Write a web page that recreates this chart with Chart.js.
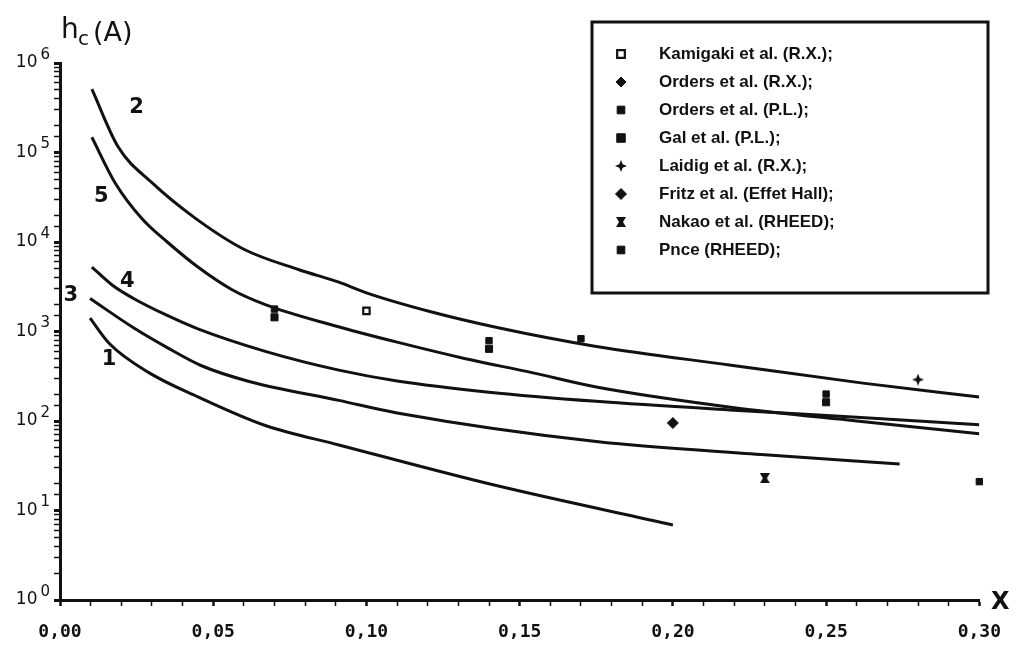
<!DOCTYPE html>
<html>
<head>
<meta charset="utf-8">
<script src="https://cdn.jsdelivr.net/npm/chart.js@4.4.1/dist/chart.umd.min.js"></script>
<style>
  html, body { margin: 0; padding: 0; background: #fff; }
  #wrap { position: relative; width: 1017px; height: 652px; }
</style>
</head>
<body>
<div id="wrap"><canvas id="chart" width="1017" height="652"></canvas></div>
<script>
// theoretical curves (x = composition, y = critical thickness in A)
const curve2X = [0.0104, 0.019, 0.030, 0.044, 0.060, 0.078, 0.091, 0.100, 0.121, 0.143, 0.175, 0.219, 0.262, 0.300];
const curve2Y = [510000, 115000, 46000, 18600, 8300, 4900, 3560, 2700, 1660, 1100, 680, 420, 265, 185];

const curve5X = [0.0104, 0.018, 0.027, 0.035, 0.045, 0.056, 0.067, 0.089, 0.110, 0.132, 0.154, 0.175, 0.220, 0.260, 0.300];
const curve5Y = [148000, 45700, 17800, 10000, 5250, 2950, 2000, 1175, 760, 500, 347, 240, 141, 100, 72];

const curve4X = [0.0104, 0.017, 0.024, 0.035, 0.045, 0.067, 0.091, 0.110, 0.140, 0.175, 0.220, 0.260, 0.300];
const curve4Y = [5250, 3310, 2340, 1510, 1070, 600, 370, 280, 210, 166, 132, 110, 91];

const curve3X = [0.0098, 0.024, 0.035, 0.046, 0.062, 0.091, 0.110, 0.175, 0.230, 0.274];
const curve3Y = [2340, 1100, 660, 417, 275, 170, 123, 59, 42, 33];

const curve1X = [0.0098, 0.016, 0.029, 0.045, 0.067, 0.091, 0.141, 0.200];
const curve1Y = [1410, 740, 347, 186, 89, 54, 19.5, 6.9];

// curve numbers written next to the curves
const curveLabels = ["2", "5", "4", "3", "1"];
const curveLabelX = [0.025, 0.0135, 0.022, 0.0035, 0.016];
const curveLabelY = [320000, 32000, 3600, 2500, 480];

// experimental points
const kamigakiX = [0.10];
const kamigakiY = [1700];
const ordersRxX = [];
const ordersRxY = [];
const ordersPlX = [0.07, 0.14, 0.25];
const ordersPlY = [1780, 790, 200];
const galX = [0.07, 0.14, 0.25];
const galY = [1440, 640, 162];
const laidigX = [0.28];
const laidigY = [290];
const fritzX = [0.20];
const fritzY = [95];
const nakaoX = [0.23];
const nakaoY = [23];
const pnceX = [0.17, 0.30];
const pnceY = [830, 21];

const legendLabels = [
  "Kamigaki et al. (R.X.);",
  "Orders et al. (R.X.);",
  "Orders et al. (P.L.);",
  "Gal et al. (P.L.);",
  "Laidig et al. (R.X.);",
  "Fritz et al. (Effet Hall);",
  "Nakao et al. (RHEED);",
  "Pnce (RHEED);",
];

const yPowers = [0, 1, 2, 3, 4, 5, 6];

const INK = "#111";

function zip(xs, ys) {
  return xs.map((x, i) => ({ x: x, y: ys[i] }));
}

// little canvases for the odd marker shapes
function starMarker(size) {
  const c = document.createElement("canvas");
  c.width = c.height = size;
  const g = c.getContext("2d");
  const m = size / 2, k = size * 0.14;
  g.fillStyle = INK;
  g.beginPath();
  g.moveTo(m, 0);
  g.lineTo(m + k, m - k);
  g.lineTo(size, m);
  g.lineTo(m + k, m + k);
  g.lineTo(m, size);
  g.lineTo(m - k, m + k);
  g.lineTo(0, m);
  g.lineTo(m - k, m - k);
  g.closePath();
  g.fill();
  return c;
}

function hourglassMarker(size) {
  const c = document.createElement("canvas");
  c.width = c.height = size;
  const g = c.getContext("2d");
  const m = size / 2;
  g.fillStyle = INK;
  g.beginPath();
  g.moveTo(0, 0);
  g.lineTo(size, 0);
  g.lineTo(m + 2, m);
  g.lineTo(size, size);
  g.lineTo(0, size);
  g.lineTo(m - 2, m);
  g.closePath();
  g.fill();
  return c;
}

const starImg = starMarker(12);
const hourglassImg = hourglassMarker(10);

function pointSet(label, xs, ys, style, radius, fill) {
  return {
    label: label,
    data: zip(xs, ys),
    showLine: false,
    clip: false,
    pointStyle: style,
    pointRadius: radius,
    pointHoverRadius: radius,
    pointBackgroundColor: fill,
    pointBorderColor: INK,
    pointBorderWidth: fill === "#fff" ? 2.2 : 1,
  };
}

function curveSet(xs, ys) {
  return {
    label: "",
    data: zip(xs, ys),
    showLine: true,
    borderColor: INK,
    borderWidth: 3,
    pointRadius: 0,
    cubicInterpolationMode: "monotone",
  };
}

const markerSets = [
  pointSet(legendLabels[0], kamigakiX, kamigakiY, "rect", 4.5, "#fff"),
  pointSet(legendLabels[1], ordersRxX, ordersRxY, "rectRot", 5, INK),
  pointSet(legendLabels[2], ordersPlX, ordersPlY, "rect", 4.5, INK),
  pointSet(legendLabels[3], galX, galY, "rect", 5, INK),
  pointSet(legendLabels[4], laidigX, laidigY, starImg, 6, INK),
  pointSet(legendLabels[5], fritzX, fritzY, "rectRot", 5.5, INK),
  pointSet(legendLabels[6], nakaoX, nakaoY, hourglassImg, 5, INK),
  pointSet(legendLabels[7], pnceX, pnceY, "rect", 4.5, INK),
];

const curveSets = [
  curveSet(curve2X, curve2Y),
  curveSet(curve5X, curve5Y),
  curveSet(curve4X, curve4Y),
  curveSet(curve3X, curve3Y),
  curveSet(curve1X, curve1Y),
];

function isPow10(v) {
  const l = Math.log10(v);
  return Math.abs(l - Math.round(l)) < 1e-9;
}

// draws y tick labels (10 with exponent), axis titles, curve numbers and the boxed legend
const decorPlugin = {
  id: "decor",
  afterDraw(chart) {
    const ctx = chart.ctx;
    const xs = chart.scales.x;
    const ys = chart.scales.y;
    ctx.save();
    ctx.fillStyle = INK;

    // y tick labels
    ctx.textBaseline = "middle";
    ctx.textAlign = "right";
    yPowers.forEach((p) => {
      const py = ys.getPixelForValue(Math.pow(10, p));
      ctx.font = "15px 'DejaVu Sans'";
      const exp = String(p);
      ctx.fillText(exp, xs.left - 10, py - 8);
      const ew = ctx.measureText(exp).width;
      ctx.font = "17px 'DejaVu Sans'";
      ctx.fillText("10", xs.left - 13 - ew, py);
    });

    // y axis title
    ctx.textAlign = "left";
    ctx.textBaseline = "alphabetic";
    ctx.font = "28px 'DejaVu Sans'";
    ctx.fillText("h", xs.left + 1, 38);
    ctx.font = "20px 'DejaVu Sans'";
    ctx.fillText("c", xs.left + 18, 45);
    ctx.font = "27px 'DejaVu Sans'";
    ctx.fillText("(A)", xs.left + 33, 41);

    // x axis title
    ctx.font = "bold 24px 'DejaVu Sans'";
    ctx.textAlign = "center";
    ctx.textBaseline = "middle";
    ctx.fillText("X", xs.right + 21, ys.bottom + 3);

    // curve numbers
    ctx.font = "bold 21px 'DejaVu Sans'";
    curveLabels.forEach((t, i) => {
      ctx.fillText(t, xs.getPixelForValue(curveLabelX[i]), ys.getPixelForValue(curveLabelY[i]));
    });

    // legend box
    const boxL = 592, boxT = 22, boxR = 988, boxB = 293;
    ctx.fillStyle = "#fff";
    ctx.fillRect(boxL, boxT, boxR - boxL, boxB - boxT);
    ctx.strokeStyle = INK;
    ctx.lineWidth = 3;
    ctx.strokeRect(boxL, boxT, boxR - boxL, boxB - boxT);
    ctx.textAlign = "left";
    ctx.font = "bold 17px 'Liberation Sans'";
    markerSets.forEach((ds, i) => {
      const ry = boxT + 32 + i * 28;
      const mx = boxL + 29;
      ctx.fillStyle = ds.pointBackgroundColor;
      ctx.strokeStyle = INK;
      ctx.lineWidth = ds.pointBorderWidth;
      if (typeof ds.pointStyle === "string") {
        ctx.beginPath();
        if (ds.pointStyle === "rectRot") {
          const r = ds.pointRadius;
          ctx.moveTo(mx, ry - r);
          ctx.lineTo(mx + r, ry);
          ctx.lineTo(mx, ry + r);
          ctx.lineTo(mx - r, ry);
          ctx.closePath();
        } else {
          const r = ds.pointRadius * 0.85;
          ctx.rect(mx - r, ry - r, 2 * r, 2 * r);
        }
        ctx.fill();
        ctx.stroke();
      } else {
        const img = ds.pointStyle;
        ctx.drawImage(img, mx - img.width / 2, ry - img.height / 2);
      }
      ctx.fillStyle = INK;
      ctx.textBaseline = "middle";
      ctx.fillText(ds.label, boxL + 67, ry);
    });
    ctx.restore();
  },
};

new Chart(document.getElementById("chart"), {
  type: "scatter",
  data: { datasets: markerSets.concat(curveSets) },
  options: {
    responsive: false,
    animation: false,
    devicePixelRatio: 1,
    layout: { padding: { top: 63, right: 30, left: 0, bottom: 0 } },
    plugins: {
      legend: { display: false },
      tooltip: { enabled: false },
    },
    scales: {
      x: {
        type: "linear",
        min: 0,
        max: 0.3,
        border: { color: INK, width: 3 },
        grid: {
          drawOnChartArea: false,
          tickLength: 6,
          tickColor: INK,
          tickWidth: (c) => (Math.round(c.tick.value * 100) % 5 === 0 ? 2.5 : 1.5),
        },
        ticks: {
          stepSize: 0.01,
          autoSkip: false,
          maxRotation: 0,
          padding: 16,
          color: INK,
          font: { family: "'DejaVu Sans Mono'", size: 18, weight: "bold" },
          callback: (v) => (Math.round(v * 100) % 5 === 0 ? v.toFixed(2).replace(".", ",") : ""),
        },
        afterFit: (scale) => { scale.height = 52; },
      },
      y: {
        type: "logarithmic",
        min: 1,
        max: 1000000,
        border: { color: INK, width: 3 },
        grid: {
          drawOnChartArea: false,
          tickLength: 6,
          tickColor: INK,
          tickWidth: (c) => (isPow10(c.tick.value) ? 3 : 1.5),
        },
        ticks: {
          autoSkip: false,
          callback: () => "",
        },
        afterFit: (scale) => { scale.width = 60; },
      },
    },
  },
  plugins: [decorPlugin],
});
</script>
</body>
</html>
